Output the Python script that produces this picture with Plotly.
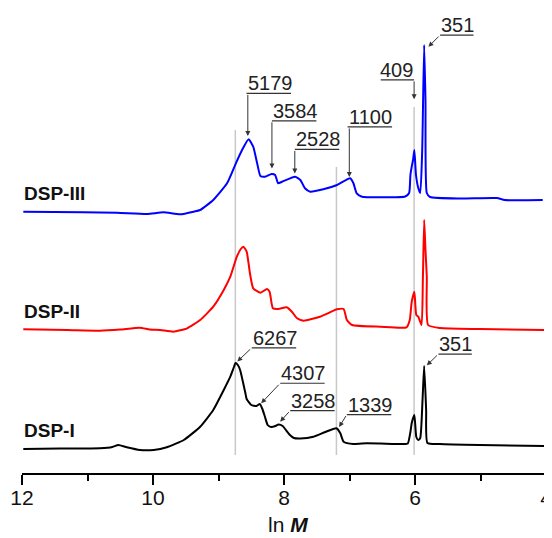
import numpy as np
import plotly.graph_objects as go

# ---------------- data ----------------
# DSP-I (black)
lnM_I = [11.98, 11.42, 10.81, 10.62, 10.53, 10.40, 10.20, 9.99, 9.79, 9.53, 9.28, 9.08,
         8.92, 8.82, 8.77, 8.74, 8.705, 8.67, 8.63, 8.59, 8.57, 8.50, 8.42, 8.37, 8.33,
         8.29, 8.25, 8.20, 8.13, 8.085, 8.02, 7.96, 7.91, 7.85, 7.75, 7.55, 7.37, 7.20,
         7.14, 7.09, 6.94, 6.74, 6.53, 6.19, 6.11, 6.07, 6.05, 6.01, 5.98, 5.95, 5.92,
         5.885, 5.86, 5.83, 5.81, 5.62, 5.01, 4.00]
int_I = [0, 0.5, 0.7, 2, 4, 1.7, -1, -1, 1.7, 9, 22.3, 39,
         59, 72.3, 81, 86, 84, 79, 68, 56, 50, 44, 43, 45, 40,
         32, 24, 22, 23, 24.5, 23, 18, 14, 11, 10.5, 12.3, 17, 20.7,
         15.7, 7.3, 5, 5.7, 5.5, 5, 5.5, 17, 26, 34, 12, 9, 11,
         49, 83, 39, 6, 5, 4, 3]

# DSP-II (red)
lnM_II = [11.98, 11.31, 10.81, 10.50, 10.20, 10.05, 9.89, 9.69, 9.48, 9.28, 9.08, 8.92,
          8.82, 8.72, 8.66, 8.62, 8.57, 8.52, 8.47, 8.36, 8.26, 8.22, 8.17, 8.085, 7.96,
          7.88, 7.80, 7.70, 7.45, 7.19, 7.09, 7.04, 6.96, 6.53, 6.13, 6.08, 6.05, 6.01,
          5.98, 5.95, 5.90, 5.88, 5.86, 5.84, 5.82, 5.80, 5.62, 5.01, 4.00]
int_II = [0.7, 0, -0.7, 0.5, 2.3, 0.5, 0, -1.7, 1.7, 10, 23.3, 40,
          53.3, 73.3, 81, 83.3, 78.3, 56.7, 41.7, 37.3, 41, 38.3, 21.7, 21, 22.7,
          18.3, 11.7, 9.3, 13.3, 20.7, 21, 10, 5, 3.3, 2.7, 10, 28.3, 38.3,
          15, 13.3, 5, 50, 110, 80, 53.3, 5, 2, 1, 0]

# DSP-III (blue)
lnM_III = [11.98, 11.06, 10.55, 10.09, 9.84, 9.585, 9.38, 9.28, 9.08, 8.87, 8.735, 8.64,
           8.54, 8.47, 8.41, 8.36, 8.29, 8.19, 8.135, 8.09, 8.03, 7.83, 7.75, 7.68, 7.60,
           7.40, 7.19, 6.99, 6.94, 6.89, 6.81, 6.53, 6.15, 6.09, 6.07, 6.05, 6.03, 6.01,
           5.985, 5.95, 5.92, 5.89, 5.86, 5.84, 5.82, 5.77, 5.31, 4.75, 4.63, 4.05]
int_III = [0.3, -0.3, -0.7, -2, -0.3, -2.3, 0.3, 2, 12, 28.7, 48.7, 62,
           72.7, 65.3, 48.7, 36, 35.3, 38, 37, 28.7, 30.3, 35.3, 32, 23.7, 20.3,
           22.7, 27, 33.7, 28.7, 18.7, 15.3, 14.7, 15.5, 19, 37, 45.3, 52, 62,
           37, 24, 19, 62, 167, 112, 19, 15, 13.5, 14, 12, 12]

series_names = ["DSP-I", "DSP-II", "DSP-III"]
peak_labels_I = [6267, 4307, 3258, 1339, 351]
peak_labels_III = [5179, 3584, 2528, 1100, 409, 351]
ref_line_M = [6267, 1339, 409]
x_ticks = [12, 10, 8, 6, 4]

# ---------------- style ----------------
FONT = "Liberation Sans, Arial, sans-serif"
offsets = {"DSP-I": 24, "DSP-II": 143, "DSP-III": 261}
colors = {"DSP-I": "#000000", "DSP-II": "#ff0000", "DSP-III": "#0000ff"}
series = {"DSP-I": (lnM_I, int_I), "DSP-II": (lnM_II, int_II), "DSP-III": (lnM_III, int_III)}

# page body has an 8px margin, so the figure is sized/placed to compensate
W, H = 552, 530
ML, MR, MT, MB = 14, 14, 0, 65
PW = W - ML - MR
PH = H - MT - MB
XR = [12, 4]
YR = [0, PH]
PX_PER_X = PW / (XR[0] - XR[1])
PX_PER_Y = PH / (YR[1] - YR[0])

fig = go.Figure()
for name in series_names:
    xs, ys = series[name]
    fig.add_trace(go.Scatter(x=xs, y=[v + offsets[name] for v in ys], mode="lines",
                             line=dict(color=colors[name], width=2, shape="spline",
                                       smoothing=0.5),
                             name=name, hoverinfo="skip"))

def curve_y(name, xv):
    xs, ys = series[name]
    xa = np.array(xs)[::-1]
    ya = np.array(ys)[::-1]
    return float(np.interp(xv, xa, ya)) + offsets[name]

# reference lines (tops in data units, bottom fixed)
line_tops = [343, 306, 366]
shapes = []
for M, top in zip(ref_line_M, line_tops):
    shapes.append(dict(type="line", xref="x", yref="y", x0=np.log(M), x1=np.log(M),
                       y0=18, y1=top, line=dict(color="#c8c8c8", width=1.5), layer="below"))

annotations = []
LBL_FS = 20
DIGIT_W = 0.556 * LBL_FS

# (series, M, gap above curve px, tip x-shift px, tail dx, tail dy, kind)
label_style = [
    ("DSP-I", 6267, 2.0, 2.0, 14.4, -13.7, "diag"),
    ("DSP-I", 4307, 1.0, 1.3, 19.0, -20.0, "diag"),
    ("DSP-I", 3258, 3.0, 2.0, 10.0, -11.0, "diag"),
    ("DSP-I", 1339, 1.3, 2.7, 7.7, -12.5, "diag"),
    ("DSP-I", 351, 1.7, 2.7, 11.6, -11.3, "diag"),
    ("DSP-III", 5179, 4.5, 0.0, -1.3, -42.7, "vert"),
    ("DSP-III", 3584, 5.7, 0.0, 0.0, -47.6, "vert"),
    ("DSP-III", 2528, 3.4, 0.0, 0.0, -24.0, "vert"),
    ("DSP-III", 1100, 1.8, 0.0, -1.7, -50.0, "vert"),
    ("DSP-III", 409, 52.7, 0.0, 0.0, -19.3, "vertR"),
    ("DSP-III", 351, 1.0, 4.3, 11.7, -11.7, "diag"),
]

for name, M, gap, xsh, tdx, tdy, kind in label_style:
    txt = str(M)
    ul_len = len(txt) * DIGIT_W
    tx = np.log(M) - xsh / PX_PER_X
    ty = curve_y(name, np.log(M)) + gap / PX_PER_Y
    if kind == "diag":
        ax, ay = tdx, tdy
        ul0, ul1 = tdx, tdx + ul_len
    elif kind == "vert":
        ax, ay = 0, tdy
        ul0, ul1 = tdx, tdx + ul_len
    else:  # text to the left of the stem
        ax, ay = 0, tdy
        ul0, ul1 = -ul_len, 0
    annotations.append(dict(x=tx, y=ty, xref="x", yref="y", ax=ax, ay=ay, text="",
                            showarrow=True, arrowhead=2, arrowsize=1.0, arrowwidth=1,
                            arrowcolor="#333333", standoff=0, startstandoff=0))
    shapes.append(dict(type="line", xref="x", yref="y",
                       x0=tx - ul0 / PX_PER_X, x1=tx - ul1 / PX_PER_X,
                       y0=ty - tdy / PX_PER_Y, y1=ty - tdy / PX_PER_Y,
                       line=dict(color="#333333", width=1.2)))
    annotations.append(dict(x=tx, y=ty, xref="x", yref="y", text=txt, showarrow=False,
                            xanchor="left" if kind != "vertR" else "right",
                            yanchor="middle", borderpad=0,
                            xshift=ul0 if kind != "vertR" else 0,
                            yshift=10 - tdy,
                            font=dict(family=FONT, size=LBL_FS, color="#222222")))

# series labels
for name in series_names:
    annotations.append(dict(x=0.002, xref="paper", y=offsets[name] + 19, yref="y",
                            text="<b>%s</b>" % name, showarrow=False, xanchor="left",
                            yanchor="middle", borderpad=0,
                            font=dict(family=FONT, size=19, color="#111111")))

# axis title
annotations.append(dict(x=0.507, xref="paper", y=-(51 / PH), yref="paper",
                        text="ln <b><i>M</i></b>", showarrow=False, xanchor="center",
                        yanchor="middle", borderpad=0,
                        font=dict(family=FONT, size=21, color="#111111")))

fig.update_layout(
    width=W, height=H, margin=dict(l=ML, r=MR, t=MT, b=MB),
    paper_bgcolor="white", plot_bgcolor="white", showlegend=False,
    shapes=shapes, annotations=annotations,
    xaxis=dict(range=XR, tickmode="array", tickvals=x_ticks, ticks="outside",
               ticklen=10, tickwidth=2, tickcolor="black", showline=True,
               linewidth=2, linecolor="black", showgrid=False, zeroline=False,
               tickfont=dict(family=FONT, size=21, color="#111111"), automargin=False,
               ticklabelstandoff=-5, ticklabeloverflow="allow",
               minor=dict(tickvals=[11, 9, 7, 5], ticks="outside", ticklen=6,
                          tickwidth=2, tickcolor="black", showgrid=False)),
    yaxis=dict(range=YR, visible=False, showgrid=False, zeroline=False),
)

fig.write_html("out.html")
